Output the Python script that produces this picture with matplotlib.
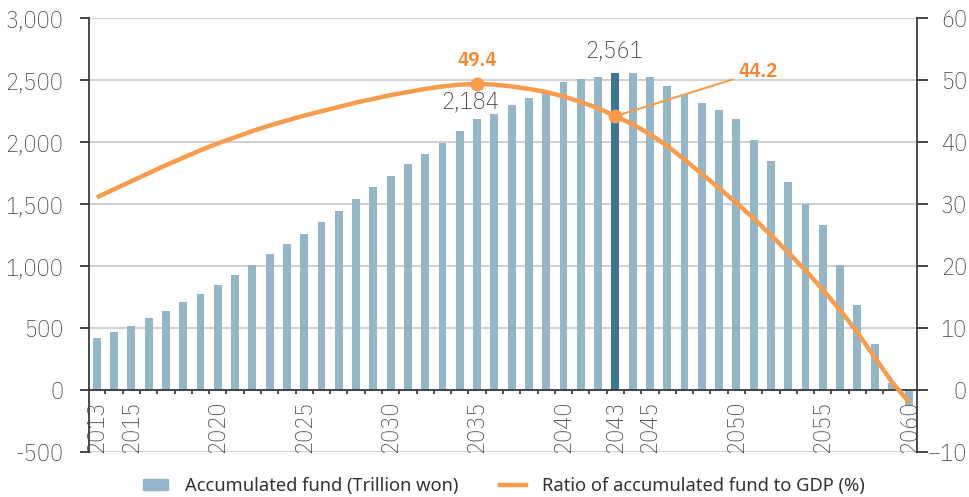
import matplotlib
matplotlib.use("Agg")
import matplotlib.pyplot as plt
from matplotlib.lines import Line2D
from matplotlib.patches import Patch

# === DATA ===
years = list(range(2013, 2061))
fund = [423, 471, 520, 583, 640, 712, 777, 849, 929, 1010,
        1098, 1180, 1259, 1358, 1444, 1540, 1637, 1725, 1822, 1902,
        1990, 2087, 2184, 2231, 2303, 2359, 2416, 2488, 2513, 2527,
        2561, 2558, 2527, 2456, 2392, 2319, 2263, 2191, 2014, 1845,
        1677, 1500, 1331, 1012, 688, 375, 54, -120]
ratio = [31.1, 32.4, 33.7, 35.0, 36.3, 37.5, 38.7, 39.8, 40.8, 41.8,
         42.7, 43.5, 44.3, 45.0, 45.7, 46.4, 47.0, 47.6, 48.1, 48.6,
         49.0, 49.3, 49.4, 49.3, 49.0, 48.6, 48.1, 47.4, 46.5, 45.5,
         44.2, 42.9, 41.3, 39.4, 37.2, 34.9, 32.6, 30.2, 27.7, 25.0,
         22.2, 19.3, 16.2, 12.9, 9.3, 5.3, 1.3, -2.0]
label_years = [2013, 2015, 2020, 2025, 2030, 2035, 2040, 2043, 2045, 2050, 2055, 2060]
highlight_year = 2043
peak_year = 2035

# === STYLE ===
plt.rcParams['font.family'] = ['IBM Plex Sans Condensed', 'DejaVu Sans']
plt.rcParams['font.weight'] = 'light'
bar_color = '#93b6c8'
bar_dark = '#3a7597'
orange = '#f89b4b'
orange_txt = '#f6852b'
grid_c = '#c8c8cc'
axis_c = '#3a3a3a'
txt_c = '#444444'
fs = 17.5

fig = plt.figure(figsize=(9.69, 4.97), dpi=100)
ax = fig.add_axes([89 / 969, 1 - 452 / 497, (917 - 89) / 969, (452 - 18.3) / 497])
ax2 = ax.twinx()

colors = [bar_dark if y == highlight_year else bar_color for y in years]
ax.bar(years, fund, width=0.46, color=colors, zorder=2)

ax.set_xlim(2012.55, 2060.45)
ax.set_ylim(-500, 3000)
ax.set_yticks(range(-500, 3001, 500))
ax.set_yticklabels([f'{v:,}' for v in range(-500, 3001, 500)])
ax.yaxis.grid(True, color=grid_c, lw=1.2, zorder=0)
ax.set_axisbelow(True)

ax.spines['top'].set_visible(False)
ax.spines['right'].set_visible(False)
ax.spines['bottom'].set_position(('data', 0))
ax.spines['bottom'].set_color(axis_c)
ax.spines['bottom'].set_linewidth(1.3)
ax.spines['bottom'].set_zorder(3)
ax.spines['left'].set_color(axis_c)
ax.spines['left'].set_linewidth(1.3)

# year ticks at bar boundaries, labels drawn under the zero line
ax.set_xticks([y + 0.5 for y in years[:-1]])
ax.tick_params(axis='x', length=3, width=1.3, color=axis_c, direction='out',
               labelbottom=False)
ax.tick_params(axis='y', length=6.5, width=1.3, color=axis_c, pad=12,
               labelsize=fs, labelcolor=txt_c)
for y in label_years:
    ax.annotate(str(y), xy=(y, 0), xytext=(0, -7.5), textcoords='offset points',
                rotation=90, ha='center', va='top', fontsize=fs, color=txt_c,
                zorder=6)

# === LINE (right axis) ===
ax2.plot(years, ratio, color=orange, lw=3.2, zorder=4, solid_capstyle='butt')
i_peak = years.index(peak_year)
i_hi = years.index(highlight_year)
ax2.plot([peak_year, highlight_year], [ratio[i_peak], ratio[i_hi]], 'o',
         color=orange, ms=9, zorder=5)
ax2.set_ylim(-10, 60)
ax2.set_yticks(range(-10, 61, 10))
for s in ['top', 'left', 'bottom']:
    ax2.spines[s].set_visible(False)
ax2.spines['right'].set_color(axis_c)
ax2.spines['right'].set_linewidth(1.3)
ax2.tick_params(axis='y', length=8, width=1.3, color=axis_c, pad=28,
                labelsize=fs, labelcolor=txt_c)
for lab in ax2.get_yticklabels():
    lab.set_horizontalalignment('right')

# === ANNOTATIONS ===
ax2.text(peak_year, 53.2, f'{ratio[i_peak]}', color=orange_txt, fontsize=15,
         fontweight='semibold', ha='center', va='center', zorder=6)
ax.text(peak_year - 0.4, 2322, f'{fund[i_peak]:,}', color='#333333', fontsize=fs,
        ha='center', va='center', zorder=6)
ax.text(highlight_year - 0.1, 2737, f'{fund[i_hi]:,}', color='#333333', fontsize=fs,
        ha='center', va='center', zorder=6)
ax2.annotate(f'{ratio[i_hi]}', xy=(highlight_year, ratio[i_hi]), xytext=(2050.1, 51.4),
             color=orange_txt, fontsize=15, fontweight='semibold',
             ha='left', va='center', zorder=6,
             arrowprops=dict(arrowstyle='-', color=orange, lw=1.5,
                             shrinkA=2, shrinkB=0))

# === LEGEND ===
handles = [Patch(color=bar_color), Line2D([], [], color=orange, lw=3.2)]
labels = ['Accumulated fund (Trillion won)', 'Ratio of accumulated fund to GDP (%)']
fig.legend(handles, labels, loc='center', bbox_to_anchor=(0.52, 0.022), ncol=2,
           frameon=False, prop={'family': 'Noto Sans', 'size': 13.2, 'weight': 'normal'},
           handlelength=1.4, handleheight=0.5, handletextpad=0.9, columnspacing=2.3,
           labelcolor='#333333')

fig.savefig('out.png', dpi=100)
